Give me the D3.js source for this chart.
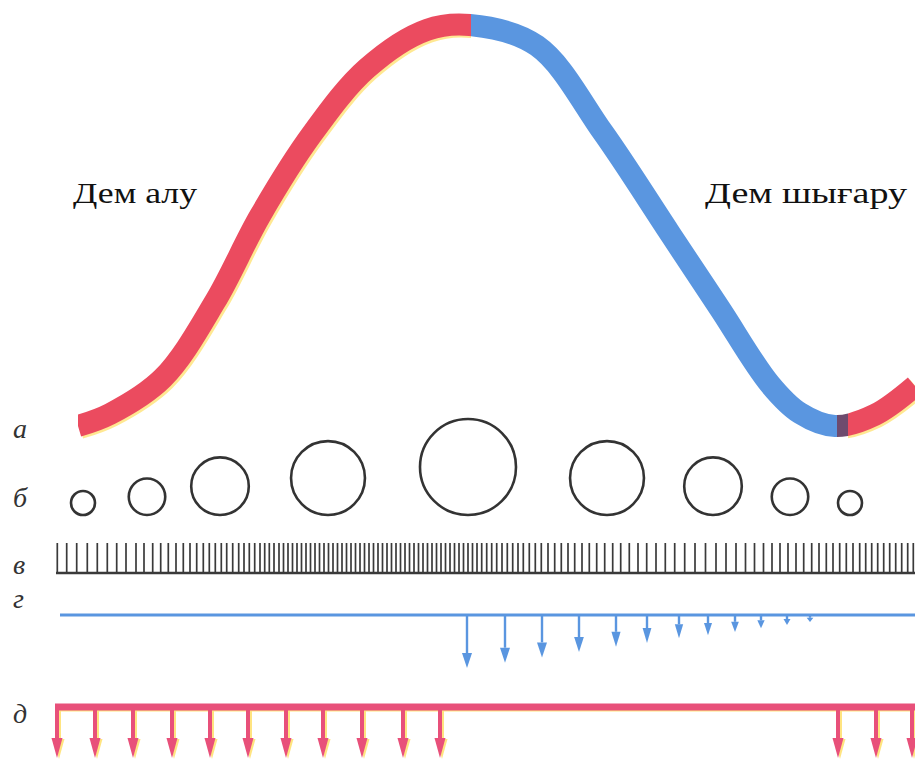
<!DOCTYPE html>
<html>
<head>
<meta charset="utf-8">
<script src="https://cdn.jsdelivr.net/npm/d3@7"></script>
<style>
  body { margin: 0; background: #fff; }
  text { font-family: "Liberation Serif", "DejaVu Serif", "Noto Serif", "FreeSerif", "Tinos", "Times New Roman", serif; }
</style>
</head>
<body>
<script>
// breathing cycle: time in seconds, lung volume in mL
var curveTime   = [0.78, 1.10, 1.63, 2.15, 2.60, 3.12, 3.67, 4.27, 4.70, 5.37, 6.03, 6.70, 7.20, 7.70, 8.00, 8.35, 8.75, 9.15];
var curveVolume = [0, 15, 60, 155, 262, 364, 446, 494, 500, 474, 366, 240, 146, 52, 16, 0, 14, 50];

var phaseName  = ["inhale", "exhale", "pause", "inhale"];
var phaseStart = [0.78, 4.71, 8.37, 8.48];
var phaseEnd   = [4.71, 8.37, 8.48, 9.20];

var phaseLabels = ["Дем алу", "Дем шығару"];
var rowLabels = ["а", "б", "в", "г", "д"];

// б : alveolus size (% of max)
var circleTime = [0.83, 1.47, 2.20, 3.28, 4.68, 6.07, 7.13, 7.90, 8.50];
var circleSize = [25, 38, 60, 77, 100, 77, 60, 38, 25];

// в : comb ticks (s)
var combTime = [0.573, 0.667, 0.767, 0.873, 0.973, 1.073, 1.167, 1.26, 1.36, 1.44, 1.527, 1.607, 1.683, 1.76, 1.833,
  1.90, 1.967, 2.033, 2.093, 2.153, 2.213, 2.267, 2.327, 2.387, 2.44, 2.493, 2.547, 2.60, 2.647, 2.693,
  2.74, 2.79, 2.835, 2.88, 2.925, 2.97, 3.015, 3.06, 3.105, 3.15, 3.195, 3.24, 3.285, 3.33, 3.375, 3.42,
  3.465, 3.51, 3.555, 3.60, 3.645, 3.69, 3.735, 3.78, 3.825, 3.87, 3.915, 3.96, 4.005, 4.05, 4.095, 4.14,
  4.185, 4.23, 4.275, 4.32, 4.365, 4.41, 4.455, 4.50, 4.545, 4.59, 4.635, 4.68, 4.725, 4.77,
  4.817, 4.867, 4.917, 4.967, 5.02, 5.073, 5.127, 5.18, 5.233, 5.293, 5.353, 5.413, 5.48, 5.547, 5.613,
  5.68, 5.747, 5.82, 5.893, 5.967, 6.047, 6.127, 6.207, 6.293, 6.38, 6.467, 6.56, 6.653, 6.747, 6.847,
  6.95, 7.055, 7.16, 7.26, 7.36, 7.455, 7.545, 7.635, 7.72, 7.80, 7.88, 7.96, 8.037, 8.117, 8.19, 8.263,
  8.33, 8.397, 8.463, 8.53, 8.597, 8.657, 8.717, 8.777, 8.837, 8.897, 8.957, 9.017, 9.077, 9.133];

// г : expiratory flow arrows
var flowTime  = [4.67, 5.05, 5.42, 5.79, 6.16, 6.47, 6.79, 7.08, 7.35, 7.61, 7.87, 8.10];
var flowValue = [1.0, 0.9, 0.8, 0.7, 0.6, 0.53, 0.44, 0.38, 0.32, 0.25, 0.19, 0.13];

// д : inspiratory impulses
var impulseTime = [0.57, 0.95, 1.33, 1.72, 2.10, 2.48, 2.86, 3.23, 3.62, 4.03, 4.40, 8.38, 8.76, 9.12];

var w = 915, h = 765;
var red = "#eb4b5f", blue = "#5a96e0", pink = "#e8507a", fringe = "#ffd84a";
var phaseColor = { inhale: red, exhale: blue, pause: "#6e4b6e" };

var x = d3.scaleLinear().domain([0, 9.15]).range([0, 915]);
var y = d3.scaleLinear().domain([0, 500]).range([426, 25]);
var r = d3.scaleLinear().domain([0, 100]).range([0, 48]);
var flow = d3.scaleLinear().domain([0, 1]).range([0, 53]);

var svg = d3.select("body").append("svg")
  .attr("width", w)
  .attr("height", h)
  .style("display", "block");

//Curve
var pts = curveTime.map(function(t, i) { return [t, curveVolume[i]]; });
var line = d3.line()
  .x(function(d) { return x(d[0]); })
  .y(function(d) { return y(d[1]); })
  .curve(d3.curveCatmullRom.alpha(0.5));

var defs = svg.append("defs");
phaseName.forEach(function(p, i) {
  defs.append("clipPath").attr("id", "ph" + i)
    .append("rect")
    .attr("x", x(phaseStart[i]))
    .attr("y", 0)
    .attr("width", x(phaseEnd[i]) - x(phaseStart[i]))
    .attr("height", 460);
});

// yellow misregistration under the red parts
phaseName.forEach(function(p, i) {
  if (p !== "inhale") return;
  svg.append("g").attr("clip-path", "url(#ph" + i + ")")
    .append("path")
    .attr("d", line(pts))
    .attr("transform", "translate(2,2)")
    .attr("fill", "none")
    .attr("stroke", fringe)
    .attr("stroke-opacity", 0.6)
    .attr("stroke-width", 22);
});
phaseName.forEach(function(p, i) {
  svg.append("g").attr("clip-path", "url(#ph" + i + ")")
    .append("path")
    .attr("d", line(pts))
    .attr("fill", "none")
    .attr("stroke", phaseColor[p])
    .attr("stroke-width", 22);
});

//Phase labels
svg.selectAll("text.phase")
  .data(phaseLabels)
  .enter()
  .append("text")
  .attr("class", "phase")
  .attr("x", function(d, i) { return i === 0 ? 73 : 705; })
  .attr("y", 203)
  .attr("textLength", function(d, i) { return i === 0 ? 124 : 202; })
  .attr("lengthAdjust", "spacingAndGlyphs")
  .attr("font-size", "30px")
  .attr("fill", "#111")
  .text(function(d) { return d; });

//Row labels
var rowBase = [438, 507, 574, 608, 723];
svg.selectAll("text.row")
  .data(rowLabels)
  .enter()
  .append("text")
  .attr("class", "row")
  .attr("x", 13)
  .attr("y", function(d, i) { return rowBase[i]; })
  .attr("font-style", "italic")
  .attr("font-size", "28px")
  .attr("fill", "#333")
  .text(function(d) { return d; });

//б circles, resting on a common baseline
svg.selectAll("circle")
  .data(circleTime)
  .enter()
  .append("circle")
  .attr("cx", function(d) { return x(d); })
  .attr("cy", function(d, i) { return 515 - r(circleSize[i]); })
  .attr("r", function(d, i) { return r(circleSize[i]); })
  .attr("fill", "none")
  .attr("stroke", "#333")
  .attr("stroke-width", 2.6);

//в comb
svg.selectAll("line.comb")
  .data(combTime)
  .enter()
  .append("line")
  .attr("class", "comb")
  .attr("x1", function(d) { return x(d); })
  .attr("x2", function(d) { return x(d); })
  .attr("y1", 543)
  .attr("y2", 573)
  .attr("stroke", "#3a3a3a")
  .attr("stroke-width", 1.7);
svg.append("line")
  .attr("x1", x(0.56)).attr("x2", x(9.15))
  .attr("y1", 573).attr("y2", 573)
  .attr("stroke", "#3a3a3a")
  .attr("stroke-width", 2.6);

//г flow line and arrows
var gY = 615;
svg.append("line")
  .attr("x1", x(0.60)).attr("x2", x(9.15))
  .attr("y1", gY).attr("y2", gY)
  .attr("stroke", blue)
  .attr("stroke-width", 3);

var gArrows = svg.selectAll("g.flow")
  .data(flowTime)
  .enter()
  .append("g")
  .attr("class", "flow")
  .attr("transform", function(d) { return "translate(" + x(d) + "," + gY + ")"; });
gArrows.append("line")
  .attr("y1", 0)
  .attr("y2", function(d, i) { var L = flow(flowValue[i]); return L - Math.min(15, L * 0.6); })
  .attr("stroke", blue)
  .attr("stroke-width", 2.4);
gArrows.append("path")
  .attr("d", function(d, i) {
    var L = flow(flowValue[i]), hl = Math.min(15, L * 0.6), hw = Math.min(5, 3 + L * 0.05);
    return "M" + (-hw) + "," + (L - hl) + "L" + hw + "," + (L - hl) + "L0," + L + "Z";
  })
  .attr("fill", blue);

//д impulses
var dY = 707, dTip = 758;
function drawImpulses(color, dx, dy, op) {
  var g = svg.append("g").attr("transform", "translate(" + dx + "," + dy + ")").attr("opacity", op);
  g.append("line")
    .attr("x1", x(0.55)).attr("x2", x(9.15))
    .attr("y1", dY).attr("y2", dY)
    .attr("stroke", color)
    .attr("stroke-width", 7);
  var a = g.selectAll("g.imp")
    .data(impulseTime)
    .enter()
    .append("g")
    .attr("transform", function(d) { return "translate(" + x(d) + ",0)"; });
  a.append("line")
    .attr("y1", dY).attr("y2", dTip - 18)
    .attr("stroke", color)
    .attr("stroke-width", 4);
  a.append("path")
    .attr("d", "M-5.5," + (dTip - 20) + "L5.5," + (dTip - 20) + "L0," + dTip + "Z")
    .attr("fill", color);
}
drawImpulses(fringe, 2, 1, 0.7);
drawImpulses(pink, 0, 0, 1);
</script>
</body>
</html>
